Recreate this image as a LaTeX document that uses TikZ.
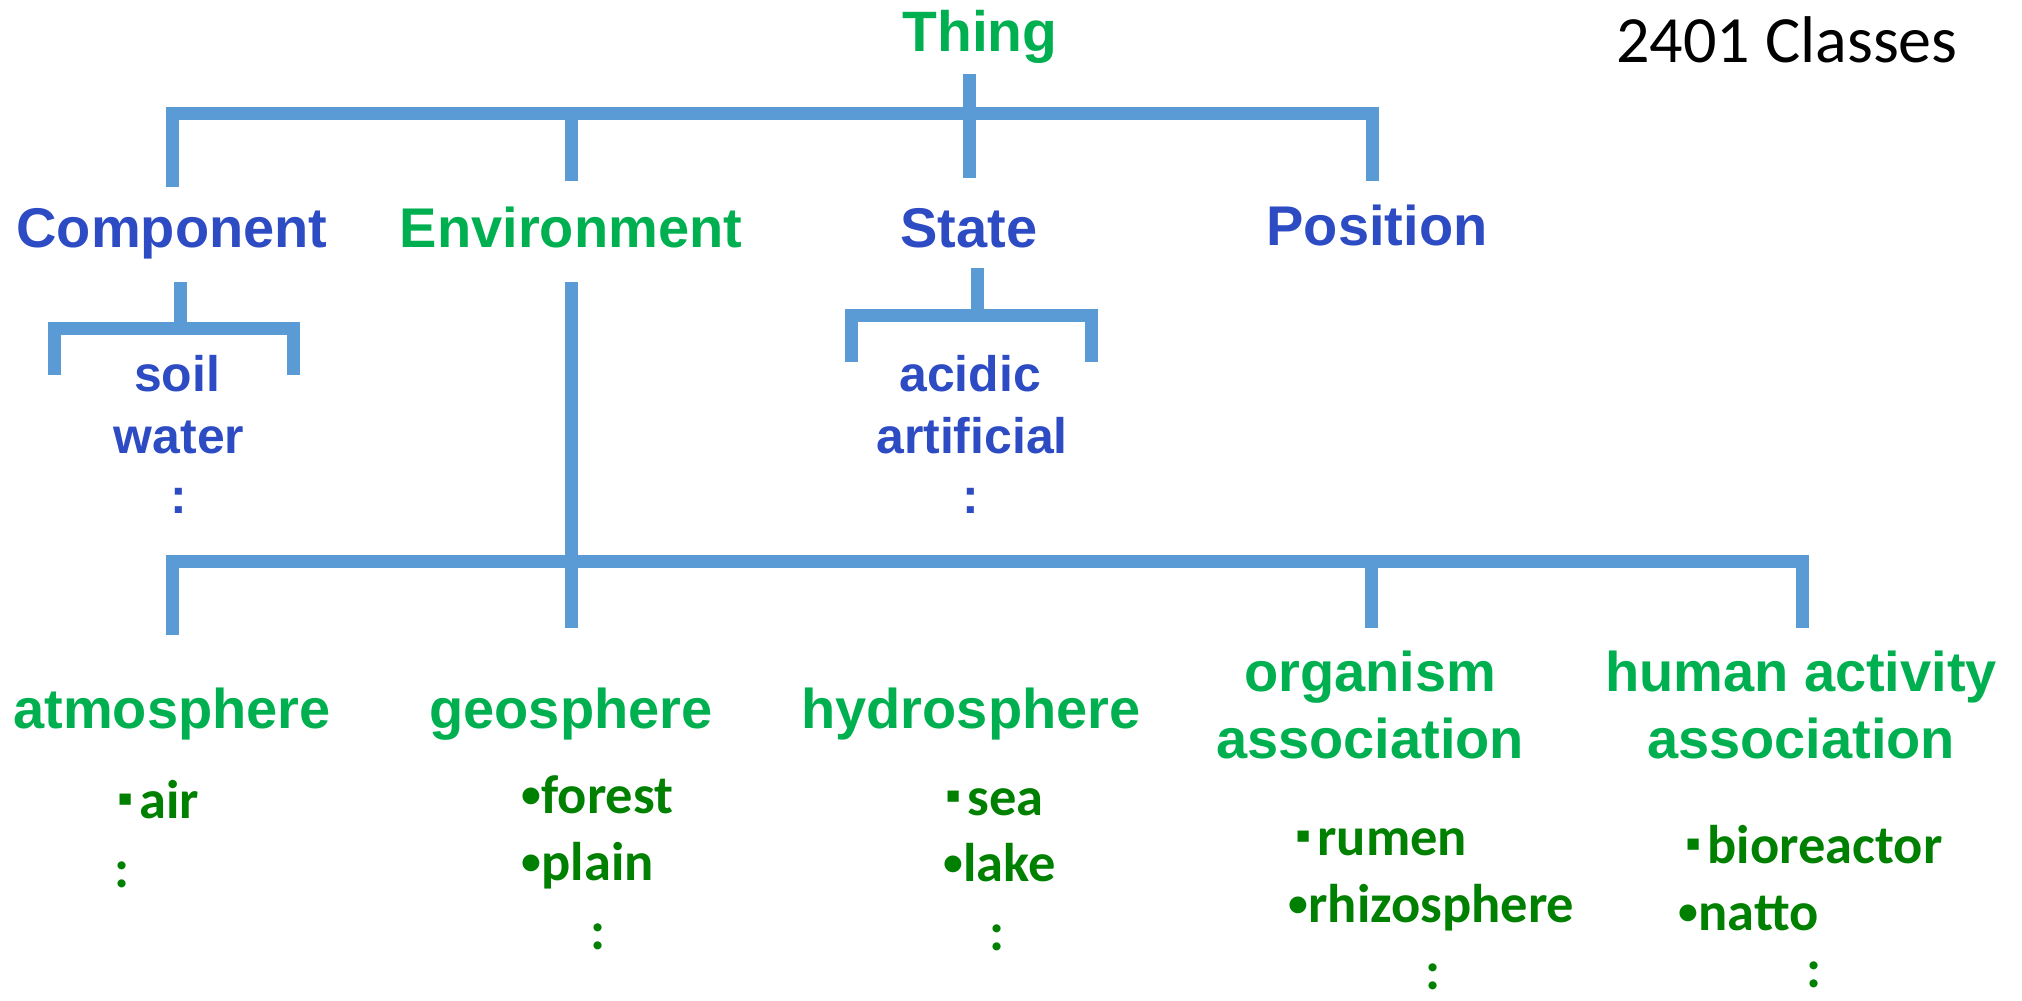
\documentclass[tikz,border=0pt]{standalone}
\usepackage{fontspec}
\setmainfont{Liberation Sans}
\newfontfamily\calfont{Carlito}
\newfontfamily\symfont{DejaVu Sans}
\usetikzlibrary{positioning}

\definecolor{linkblue}{HTML}{5B9BD5}
\definecolor{headblue}{HTML}{2D4BC3}
\definecolor{headgreen}{HTML}{00B050}
\definecolor{itemgreen}{HTML}{008000}

\newcommand{\sqb}{\raisebox{1.3mm}{\symfont\fontsize{6.4}{7}\selectfont ▪}\hspace{0.12em}}
\newcommand{\dotb}{\raisebox{0.55mm}{\fontsize{11.3}{12}\selectfont •}}

\begin{document}
\begin{tikzpicture}[x=0.1mm, y=-0.1mm,
    link/.style={draw=linkblue, line width=1.3mm},
    head/.style={font=\fontsize{15.93}{19.06}\selectfont\bfseries, inner sep=0pt, align=center},
    sub/.style={font=\fontsize{14.2}{17.6}\selectfont\bfseries, text=headblue, inner sep=0pt, anchor=base},
    item/.style={font=\calfont\fontsize{15.5}{18}\selectfont\bfseries, text=itemgreen, inner sep=0pt}]
    \useasboundingbox (0,0) rectangle (2022,1000);

    \node[head, text=headgreen, font=\fontsize{16.2}{19}\selectfont\bfseries, anchor=base] (thing) at (980,51) {Thing};
    \node[anchor=base, inner sep=0pt, font=\calfont\fontsize{18.8}{22}\selectfont] (count) at (1787,62) {2401 Classes};

    % first level
    \node[head, text=headblue, anchor=base] (comp) at (172,247) {Component};
    \node[head, text=headgreen, anchor=base] (env) at (571,247) {Environment};
    \node[head, text=headblue, anchor=base] (state) at (969,247) {State};
    \node[head, text=headblue, anchor=base] (pos) at (1377,245) {Position};

    \coordinate (topbar) at (0,113.5);
    \coordinate (thing-out) at (969,74);
    \coordinate (state-in) at (969,178);
    \coordinate (comp-in) at (172,187);
    \coordinate (env-in) at (571,181);
    \coordinate (pos-in) at (1372,181);
    \draw[link] (comp-in) -- (comp-in |- topbar) -- (pos-in |- topbar) -- (pos-in);
    \draw[link] (env-in) -- (env-in |- topbar);
    \draw[link] (thing-out) -- (state-in);

    % component and state children
    \node[sub] (soil) at (177,391) {soil};
    \node[sub] (water) at (179,453) {water};
    \node[sub] (comp-more) at (179,513) {:};
    \node[sub] (acidic) at (970,391) {acidic};
    \node[sub] (artificial) at (972,453) {artificial};
    \node[sub] (state-more) at (971,513) {:};

    \coordinate (compbar) at (0,328.5);
    \coordinate (comp-out) at (180,282);
    \coordinate (soil-l) at (54,375);
    \coordinate (soil-r) at (293,375);
    \draw[link] (comp-out) -- (comp-out |- compbar);
    \draw[link] (soil-l) -- (soil-l |- compbar) -- (soil-r |- compbar) -- (soil-r);

    \coordinate (statebar) at (0,315);
    \coordinate (state-out) at (977,268);
    \coordinate (acid-l) at (851,362);
    \coordinate (acid-r) at (1091,362);
    \draw[link] (state-out) -- (state-out |- statebar);
    \draw[link] (acid-l) -- (acid-l |- statebar) -- (acid-r |- statebar) -- (acid-r);

    % environment children
    \node[head, text=headgreen, anchor=base] (atmo) at (172,728) {atmosphere};
    \node[head, text=headgreen, anchor=base] (geo) at (571,728) {geosphere};
    \node[head, text=headgreen, anchor=base] (hydro) at (971,728) {hydrosphere};
    \node[head, text=headgreen, anchor=south] (org) at (1370,760) {organism\\association};
    \node[head, text=headgreen, anchor=south] (human) at (1801,760) {human activity\\association};

    \coordinate (envbar) at (0,561.5);
    \coordinate (env-out) at (571,282);
    \coordinate (atmo-in) at (172,635);
    \coordinate (geo-in) at (571,628);
    \coordinate (org-in) at (1371,628);
    \coordinate (human-in) at (1802,628);
    \draw[link] (env-out) -- (env-out |- envbar);
    \draw[link] (atmo-in) -- (atmo-in |- envbar) -- (human-in |- envbar) -- (human-in);
    \draw[link] (geo-in) -- (geo-in |- envbar);
    \draw[link] (org-in) -- (org-in |- envbar);

    % examples
    \foreach \n/\x/\y/\t in {air/117/818/\sqb air, forest/521/813/\dotb forest, plain/521/880/\dotb plain,
        sea/945/815/\sqb sea, lake/943/881/\dotb lake, rumen/1295/855/\sqb rumen,
        rhizo/1288/922/\dotb rhizosphere, bioreactor/1685/863/\sqb bioreactor, natto/1678/930/\dotb natto}
        \node[item, anchor=base west] (\n) at (\x,\y) {\t};
    \foreach \n/\x/\y in {atmo/122/887, geo/598/949, hydro/997/950, org/1433/989, human/1814/987}
        \node[item, anchor=base] (\n-more) at (\x,\y) {:};
\end{tikzpicture}
\end{document}
